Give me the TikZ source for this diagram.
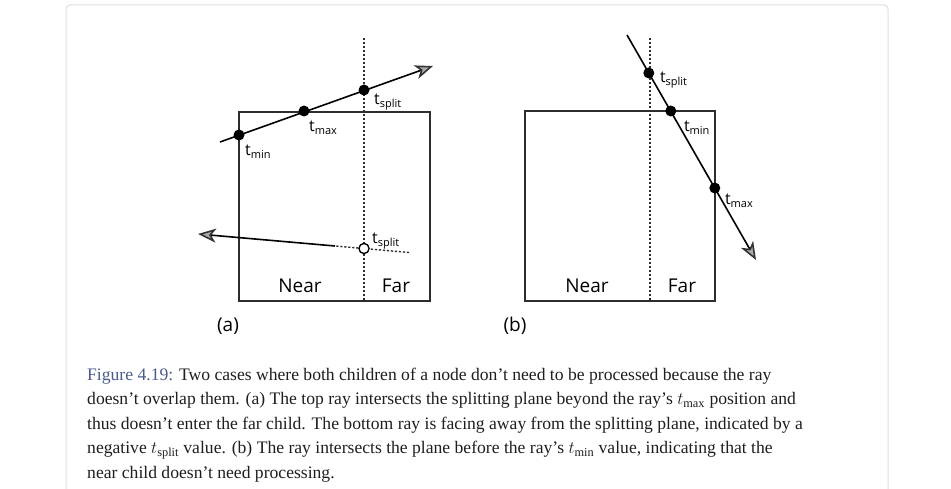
\documentclass[tikz,border=0pt]{standalone}
\usepackage{fontspec}
\setmainfont{Liberation Serif}
\newfontfamily\lblfont{Open Sans}
\usetikzlibrary{arrows.meta}
\definecolor{figblue}{RGB}{74,90,140}
\definecolor{boxgray}{RGB}{45,45,45}
\definecolor{cardgray}{RGB}{222,222,222}
\definecolor{captext}{RGB}{30,30,30}
\newcommand{\tsub}[1]{t\raisebox{-3pt}{\fontsize{11}{11}\selectfont #1}}
\begin{document}
\begin{tikzpicture}[x=1pt,y=-1pt,
        boxln/.style={draw=boxgray,line width=1.6pt},
        splitln/.style={draw=boxgray,line width=1.4pt,dash pattern=on 2.2pt off 1.8pt},
        ray/.style={line width=1.6pt,-{Stealth[length=18pt,width=14pt,inset=5pt,fill=gray!65,color=black!80]}},
        hit/.style={circle,fill=black,inner sep=0pt,minimum size=11pt},
        miss/.style={circle,draw=black,fill=white,line width=1.2pt,inner sep=0pt,minimum size=10pt},
        tl/.style={anchor=base west,inner sep=0pt,font=\lblfont\fontsize{16}{16}\selectfont},
        side/.style={anchor=base,inner sep=0pt,font=\lblfont\fontsize{19}{19}\selectfont},
        capline/.style={anchor=base west,inner sep=0pt,text=captext,font=\fontsize{17.6}{24}\selectfont}]
        \useasboundingbox (0,0) rectangle (951,489);
        % card
        \draw [cardgray,line width=1pt,rounded corners=4pt] (66,489) -- (66,5) -- (888,5) -- (888,489);
        % (a) box and splitting plane
        \draw [boxln] (239,112) rectangle (430,301);
        \coordinate (aTop) at (364,38);
        \coordinate (aBot) at (364,301);
        \draw [splitln] (aTop) -- (aBot);
        % (a) top ray
        \coordinate (aStart) at (220,142);
        \coordinate (aEnd) at (433,66);
        \draw [ray] (aStart) -- (aEnd);
        \node [hit] (aMin) at (239,135) {};
        \node [hit] (aMax) at (304,111) {};
        \node [hit] (aSplit) at (364,90) {};
        \node [tl] at ([shift={(6,21)}]aMin.center) {\tsub{min}};
        \node [tl] at ([shift={(5,21)}]aMax.center) {\tsub{max}};
        \node [tl] at ([shift={(10,15)}]aSplit.center) {\tsub{split}};
        % (a) bottom ray
        \node [miss] (bSplit) at (364,248.5) {};
        \coordinate (bFar) at (409,252.5);
        \coordinate (bMid) at (335,246);
        \coordinate (bEnd) at (198,234);
        \draw [splitln] (bFar) -- (bSplit) -- (bMid);
        \draw [ray] (bMid) -- (bEnd);
        \node [miss] at (bSplit) {};
        \node [tl] at ([shift={(8,-5)}]bSplit.center) {\tsub{split}};
        \node [side] (aNear) at (300,292) {Near};
        \node [side] (aFar) at (396,292) {Far};
        \node [side] (aCap) at (228,331) {(a)};
        % (b) box and splitting plane
        \draw [boxln] (525,111) rectangle (715,301);
        \coordinate (cTop) at (650,38);
        \coordinate (cBot) at (650,301);
        \draw [splitln] (cTop) -- (cBot);
        % (b) ray
        \coordinate (cStart) at (627,35);
        \coordinate (cEnd) at (756,260);
        \draw [ray] (cStart) -- (cEnd);
        \node [hit] (cSplit) at (648.8,73) {};
        \node [hit] (cMin) at (670.8,111) {};
        \node [hit] (cMax) at (714.8,188) {};
        \node [tl] at ([shift={(11,10)}]cSplit.center) {\tsub{split}};
        \node [tl] at ([shift={(13,21)}]cMin.center) {\tsub{min}};
        \node [tl] at ([shift={(10,17)}]cMax.center) {\tsub{max}};
        \node [side] (cNear) at (587,292) {Near};
        \node [side] (cFar) at (682,292) {Far};
        \node [side] (cCap) at (515,331) {(b)};
        % caption
        \node [capline] (cap1) at (87,380) {{\color{figblue}Figure 4.19:} Two cases where both children of a node don’t need to be processed because the ray};
        \node [capline] (cap2) at (87,404.5) {doesn’t overlap them. (a) The top ray intersects the splitting plane beyond the ray’s $t_{\max}$ position and};
        \node [capline] (cap3) at (87,429) {thus doesn’t enter the far child. The bottom ray is facing away from the splitting plane, indicated by a};
        \node [capline] (cap4) at (87,453.5) {negative $t_{\mathrm{split}}$ value. (b) The ray intersects the plane before the ray’s $t_{\min}$ value, indicating that the};
        \node [capline] (cap5) at (87,478) {near child doesn’t need processing.};
\end{tikzpicture}
\end{document}
